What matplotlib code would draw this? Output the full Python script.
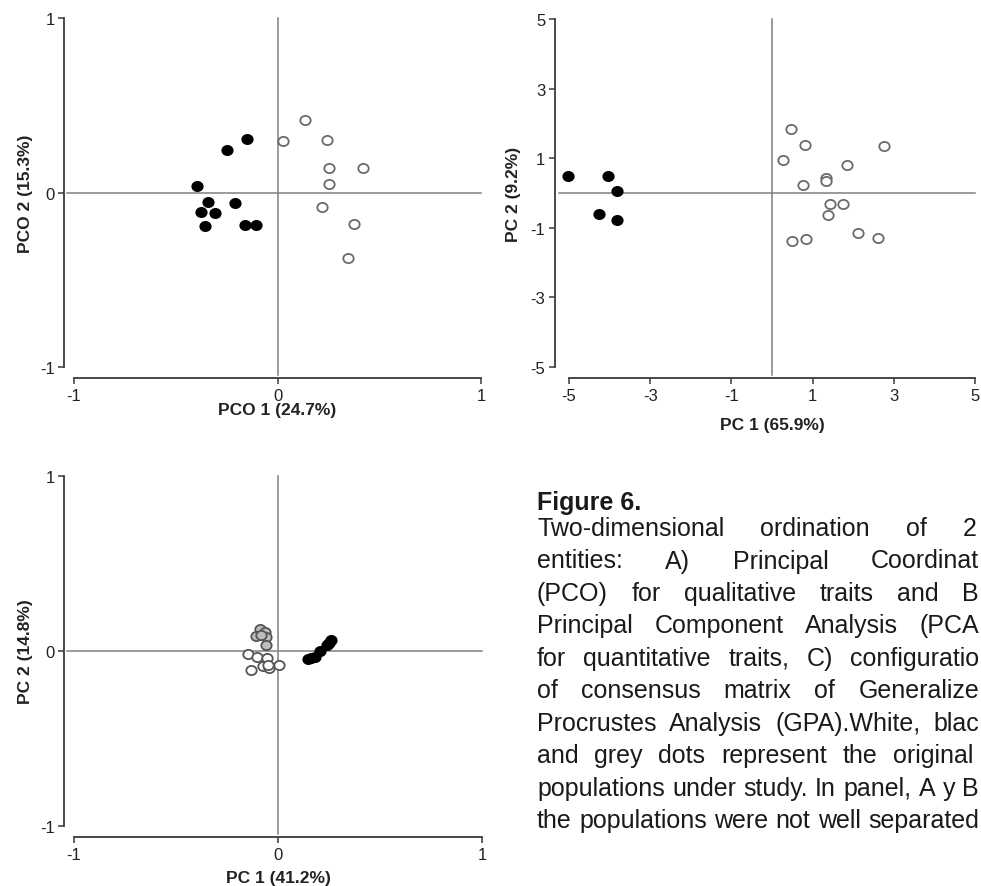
import matplotlib
matplotlib.use("Agg")
import matplotlib.pyplot as plt
from matplotlib.path import Path
from matplotlib.transforms import Affine2D

plt.rcParams['font.family'] = ['Liberation Sans', 'DejaVu Sans']
plt.rcParams['axes.unicode_minus'] = False

FIG_W, FIG_H = 981, 887

######### Data #########
# A) PCO, qualitative traits
pco_black_x = [-0.149, -0.247, -0.395, -0.341, -0.210, -0.378, -0.308, -0.354, -0.162, -0.108]
pco_black_y = [0.308, 0.246, 0.038, -0.053, -0.061, -0.109, -0.116, -0.191, -0.185, -0.185]
pco_white_x = [0.134, 0.028, 0.244, 0.252, 0.421, 0.252, 0.220, 0.375, 0.344]
pco_white_y = [0.418, 0.294, 0.302, 0.139, 0.139, 0.048, -0.082, -0.178, -0.376]

# B) PCA, quantitative traits
pca_black_x = [-5.03, -4.03, -3.83, -4.27, -3.83]
pca_black_y = [0.49, 0.49, 0.06, -0.59, -0.78]
pca_white_x = [0.46, 0.81, 2.77, 0.27, 1.84, 1.34, 1.34, 0.76, 1.42, 1.76, 1.38, 2.12, 2.61, 0.50, 0.84]
pca_white_y = [1.85, 1.38, 1.34, 0.95, 0.80, 0.43, 0.34, 0.22, -0.32, -0.32, -0.63, -1.16, -1.28, -1.37, -1.32]

# C) GPA consensus
gpa_grey_x = [-0.090, -0.062, -0.109, -0.057, -0.057, -0.082]
gpa_grey_y = [0.128, 0.109, 0.086, 0.080, 0.032, 0.090]
gpa_white_x = [-0.147, -0.101, -0.056, -0.074, -0.044, 0.005, -0.132, -0.049]
gpa_white_y = [-0.019, -0.036, -0.040, -0.086, -0.097, -0.082, -0.110, -0.082]
gpa_black_x = [0.147, 0.163, 0.180, 0.204, 0.240, 0.250, 0.258]
gpa_black_y = [-0.048, -0.040, -0.034, -0.002, 0.032, 0.048, 0.063]

pco_ticks = [-1, 0, 1]
pca_ticks = [-5, -3, -1, 1, 3, 5]

caption_title = 'Figure 6.'
caption_lines = [
    'Two-dimensional ordination of 2',
    'entities: A) Principal Coordinat',
    '(PCO) for qualitative traits and B',
    'Principal Component Analysis (PCA',
    'for quantitative traits, C) configuratio',
    'of consensus matrix of Generalize',
    'Procrustes Analysis (GPA).White, blac',
    'and grey dots represent the original',
    'populations under study. In panel, A y B',
    'the populations were not well separated',
]

# slightly wide dots, as in the (stretched) original
ELLIPSE = Path.unit_circle().transformed(Affine2D().scale(1.13, 1.0))
SPINE_C = '#3a3a3a'
REF_C = '#808080'


def px_axes(fig, left, right, top, bottom):
    return fig.add_axes([left / FIG_W, 1 - bottom / FIG_H,
                         (right - left) / FIG_W, (bottom - top) / FIG_H])


def setup_panel(ax, lim, ticks, xlabel, ylabel, xlab_y, ylab_x, off_left=7):
    ax.set_xlim(-lim, lim)
    ax.set_ylim(-lim, lim)
    ax.set_xticks(ticks)
    ax.set_yticks(ticks)
    for side in ['top', 'right']:
        ax.spines[side].set_visible(False)
    ax.spines['left'].set_position(('outward', off_left))
    ax.spines['bottom'].set_position(('outward', 8))
    for side in ['left', 'bottom']:
        ax.spines[side].set_color(SPINE_C)
        ax.spines[side].set_linewidth(1.3)
    ax.tick_params(direction='out', length=4, width=1.1, color=SPINE_C,
                   labelsize=12, labelcolor='#222222', pad=3)
    ax.axhline(0, xmin=-off_left / 400, xmax=1, color=REF_C, lw=1.1, clip_on=False, zorder=1)
    ax.axvline(0, ymin=-0.024, ymax=1, color=REF_C, lw=1.1, clip_on=False, zorder=1)
    ax.set_xlabel(xlabel, fontsize=12.5, fontweight='bold', color='#222222')
    ax.set_ylabel(ylabel, fontsize=12.5, fontweight='bold', color='#222222')
    ax.xaxis.set_label_coords(0.5, xlab_y)
    ax.yaxis.set_label_coords(ylab_x, 0.5)
    ax.patch.set_visible(False)


def dots(ax, x, y, face, edge):
    ax.scatter(x, y, s=56, marker=ELLIPSE, facecolors=face, edgecolors=edge,
               linewidths=1.3, clip_on=False, zorder=3)


fig = plt.figure(figsize=(FIG_W / 100, FIG_H / 100), dpi=100)

ax1 = px_axes(fig, 74, 481, 19, 368)
setup_panel(ax1, 1, pco_ticks, 'PCO 1 (24.7%)', 'PCO 2 (15.3%)', -0.10, -0.10)
dots(ax1, pco_black_x, pco_black_y, 'black', 'black')
dots(ax1, pco_white_x, pco_white_y, 'white', '#6a6a6a')

ax2 = px_axes(fig, 569, 975, 20, 368)
setup_panel(ax2, 5, pca_ticks, 'PC 1 (65.9%)', 'PC 2 (9.2%)', -0.145, -0.118, off_left=10)
dots(ax2, pca_black_x, pca_black_y, 'black', 'black')
dots(ax2, pca_white_x, pca_white_y, 'white', '#6a6a6a')

ax3 = px_axes(fig, 74, 482, 477, 827)
setup_panel(ax3, 1, pco_ticks, 'PC 1 (41.2%)', 'PC 2 (14.8%)', -0.125, -0.10)
dots(ax3, gpa_white_x, gpa_white_y, 'white', '#555555')
dots(ax3, gpa_grey_x, gpa_grey_y, '#bdbdbd', '#555555')
dots(ax3, gpa_black_x, gpa_black_y, 'black', 'black')

######### Caption (justified block at the right) #########
left_px = 537
title_base = 510
first_base = 536
line_step = 32.5
right_px = [977, 979, 979, 979, 979, 979, 979, 973, 979, 979]
cap_size = 18

fig.text(left_px / FIG_W, 1 - title_base / FIG_H, caption_title, fontsize=cap_size,
         fontweight='bold', va='baseline', color='#1a1a1a')

renderer = fig.canvas.get_renderer()
for i, line in enumerate(caption_lines):
    y = 1 - (first_base + i * line_step) / FIG_H
    words = line.split()
    texts = [fig.text(0, y, w, fontsize=cap_size, va='baseline', color='#1a1a1a')
             for w in words]
    widths = [t.get_window_extent(renderer).width for t in texts]
    gap = (right_px[i] - left_px - sum(widths)) / (len(words) - 1)
    x = left_px
    for t, w in zip(texts, widths):
        t.set_x(x / FIG_W)
        x += w + gap

fig.savefig('out.png', dpi=100)
